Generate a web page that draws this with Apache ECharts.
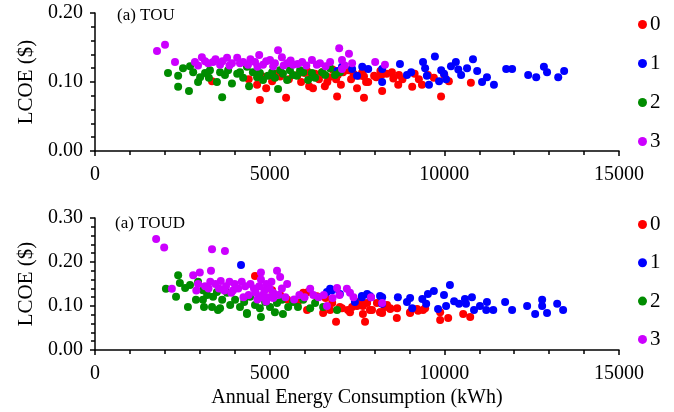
<!DOCTYPE html>
<html>
<head>
<meta charset="utf-8">
<script src="https://cdn.jsdelivr.net/npm/echarts@6/dist/echarts.min.js"></script>
<style>html,body{margin:0;padding:0;background:#fff;}#c{width:674px;height:412px;}</style>
</head>
<body>
<div id="c"></div>
<script>
const seriesNames = ['0', '1', '2', '3'];
const panelTitles = ['(a) TOU', '(a) TOUD'];
const xTicks = [0, 5000, 10000, 15000];
const yTicksTop = [0, 0.1, 0.2];
const yTicksBottom = [0, 0.1, 0.2, 0.3];
const xName = 'Annual Energy Consumption (kWh)';
const yName = 'LCOE ($)';

// ---- Panel 1: TOU ----
const touCluster0 = [[4720,0.074],[5470,0.077],[6930,0.079],[7700,0.077],[9906,0.079],[4640,0.096],[4900,0.091],[5070,0.101],[5550,0.104],[6130,0.094],[6240,0.091],[6580,0.094],[7040,0.096],[6070,0.116],[6410,0.104],[6700,0.107],[6900,0.104],[7330,0.104],[7560,0.109],[7760,0.100],[8050,0.107],[8200,0.110],[7500,0.091],[8220,0.087],[8680,0.096],[9080,0.093],[9360,0.096],[10130,0.101],[10760,0.099],[7650,0.114],[7820,0.100],[7990,0.109],[8170,0.116],[8500,0.114],[8540,0.105],[8700,0.110],[9270,0.104],[9530,0.110],[5800,0.110],[6000,0.113],[6300,0.112],[6500,0.114],[6800,0.118],[7100,0.114],[7250,0.117],[5300,0.108],[5150,0.112],[4800,0.108],[3350,0.101],[4400,0.104],[5900,0.100],[6650,0.100],[7400,0.112],[8350,0.112],[8800,0.104],[9150,0.112],[9700,0.106],[10000,0.110],[6200,0.108],[6950,0.110],[7700,0.108]];
const touCluster1 = [[8730,0.126],[9390,0.129],[9730,0.137],[10330,0.129],[10820,0.133],[11770,0.119],[11940,0.119],[12400,0.110],[12630,0.107],[12850,0.122],[12940,0.114],[13260,0.107],[13430,0.116],[11420,0.096],[11080,0.100],[11220,0.107],[10940,0.116],[10650,0.120],[10480,0.110],[9990,0.112],[9910,0.117],[10190,0.123],[9500,0.109],[9560,0.096],[9850,0.101],[9050,0.114],[8930,0.110],[8220,0.100],[8220,0.119],[7820,0.119],[7650,0.122],[7500,0.109],[7360,0.119],[7070,0.122],[6930,0.116],[9450,0.120],[10400,0.118],[10050,0.104]];
const touCluster2 = [[2090,0.113],[2380,0.093],[2690,0.087],[3640,0.078],[5240,0.090],[2380,0.109],[2520,0.120],[2720,0.123],[2950,0.100],[3150,0.113],[3260,0.106],[3490,0.100],[3720,0.110],[3920,0.098],[4070,0.112],[4240,0.106],[4410,0.094],[4640,0.107],[4810,0.103],[4950,0.109],[5150,0.106],[5380,0.112],[5500,0.103],[5670,0.110],[5870,0.117],[6100,0.103],[6300,0.106],[6500,0.114],[6730,0.120],[7010,0.114],[2810,0.114],[3010,0.107],[3290,0.117],[3580,0.114],[3810,0.117],[4150,0.114],[4350,0.122],[4520,0.114],[4720,0.113],[5070,0.114],[5300,0.117],[5580,0.117],[5780,0.109],[5960,0.114],[6210,0.113],[6590,0.110],[6870,0.110]];
const touCluster3 = [[1775,0.145],[2004,0.154],[2290,0.129],[2860,0.129],[3060,0.136],[3240,0.127],[3380,0.129],[3580,0.125],[3780,0.135],[3920,0.127],[4070,0.135],[4240,0.129],[4380,0.125],[4580,0.129],[4700,0.139],[4810,0.125],[5010,0.132],[5150,0.127],[5240,0.146],[5350,0.136],[5500,0.127],[5670,0.125],[5930,0.129],[6210,0.132],[6440,0.127],[6730,0.129],[6990,0.149],[7070,0.132],[7270,0.141],[7360,0.127],[7070,0.119],[8020,0.129],[8300,0.125],[2950,0.124],[3150,0.130],[3450,0.133],[3650,0.130],[3850,0.124],[4150,0.127],[4450,0.133],[4650,0.122],[4900,0.130],[5100,0.123],[5400,0.124],[5600,0.131],[5800,0.126],[6050,0.124],[6350,0.125],[6600,0.123],[7150,0.124]];

// ---- Panel 2: TOUD ----
const toudCluster0 = [[6900,0.064],[7730,0.064],[9880,0.068],[10110,0.073],[10540,0.082],[10740,0.075],[8640,0.073],[9020,0.086],[9250,0.089],[9390,0.091],[9880,0.086],[8170,0.086],[8450,0.093],[4580,0.168],[5070,0.136],[5960,0.130],[6070,0.091],[6530,0.084],[6790,0.107],[7070,0.095],[7300,0.086],[7500,0.109],[7670,0.100],[7870,0.091],[8160,0.086],[8360,0.102],[6730,0.091],[7240,0.091],[7500,0.100],[7670,0.082],[7790,0.107],[7930,0.091],[8220,0.084],[8450,0.095],[8650,0.095],[9020,0.084],[9220,0.093],[9450,0.095],[8070,0.107],[7640,0.109],[7360,0.098],[7010,0.098],[8300,0.098],[6100,0.132],[6350,0.122],[6600,0.118],[5300,0.125],[5500,0.115],[5800,0.108]];
const toudCluster1 = [[4180,0.193],[10160,0.148],[9700,0.134],[9530,0.127],[9990,0.125],[10790,0.120],[10590,0.116],[10280,0.111],[8670,0.120],[9020,0.118],[9370,0.116],[9080,0.095],[8930,0.109],[9480,0.105],[9820,0.093],[10050,0.100],[10420,0.105],[10620,0.105],[10850,0.091],[11020,0.100],[11220,0.109],[11200,0.091],[11400,0.091],[11740,0.109],[11940,0.091],[12370,0.100],[12600,0.082],[12800,0.114],[12800,0.100],[12940,0.084],[13230,0.105],[13400,0.091],[8160,0.123],[7870,0.123],[7640,0.123],[7790,0.127],[8220,0.105],[7440,0.109],[7010,0.127],[6730,0.139],[6640,0.132],[6790,0.136],[7640,0.120],[7900,0.120],[8220,0.120]];
const toudCluster2 = [[2380,0.170],[2030,0.139],[2320,0.121],[2660,0.098],[2430,0.152],[2890,0.114],[3120,0.098],[3520,0.091],[4350,0.082],[4750,0.075],[5150,0.086],[5380,0.082],[2580,0.141],[2720,0.148],[2950,0.155],[3090,0.136],[3210,0.125],[3380,0.121],[3490,0.132],[3640,0.114],[3780,0.130],[3870,0.102],[4010,0.114],[4150,0.098],[4270,0.109],[4440,0.121],[4580,0.102],[4720,0.095],[4870,0.109],[5010,0.098],[5210,0.107],[5350,0.114],[5530,0.098],[5670,0.109],[5810,0.098],[5960,0.114],[6160,0.095],[6300,0.107],[6530,0.098],[6930,0.091],[3580,0.095],[3350,0.098],[3090,0.114],[4350,0.084]];
const toudCluster3 = [[1750,0.252],[1980,0.233],[3350,0.229],[3720,0.225],[3320,0.180],[2200,0.139],[2810,0.170],[3000,0.176],[4750,0.176],[5210,0.180],[5300,0.166],[5500,0.150],[6160,0.139],[6930,0.141],[7210,0.139],[6640,0.100],[7900,0.120],[8220,0.107],[2950,0.150],[3150,0.145],[3300,0.155],[3450,0.150],[3600,0.157],[3750,0.145],[3850,0.155],[4000,0.150],[3550,0.140],[3700,0.135],[3900,0.130],[4100,0.140],[4200,0.155],[4300,0.145],[4450,0.150],[4550,0.140],[4600,0.130],[4700,0.145],[4750,0.160],[4800,0.125],[4850,0.135],[4900,0.150],[4950,0.120],[5000,0.140],[5050,0.155],[5100,0.130],[4650,0.115],[4750,0.120],[4900,0.110],[5100,0.118],[5250,0.125],[5350,0.140],[5450,0.120],[5700,0.115],[5850,0.125],[6000,0.120],[6250,0.125],[6400,0.120],[6550,0.125],[6800,0.118],[7000,0.125],[7300,0.130],[7400,0.120],[4400,0.125],[4250,0.120],[3950,0.135],[2900,0.135],[3250,0.140]];

const colors = ['#ff0000', '#0000ff', '#008c00', '#cc00ff'];
const FONT = '"Liberation Serif", "Times New Roman", serif';
const panels = [
  [touCluster0, touCluster1, touCluster2, touCluster3],
  [toudCluster0, toudCluster1, toudCluster2, toudCluster3]
];
const yTickSets = [yTicksTop, yTicksBottom];

const chart = echarts.init(document.getElementById('c'), null, {renderer: 'canvas'});

const grids = [
  {left: 95, width: 524, top: 13, height: 138},
  {left: 95, width: 524, top: 218, height: 132}
];

function xAxisFor(i) {
  return {
    type: 'value', gridIndex: i,
    min: xTicks[0], max: xTicks[xTicks.length - 1], interval: xTicks[1] - xTicks[0],
    name: i === 1 ? xName : '',
    nameLocation: 'middle', nameGap: 38,
    nameTextStyle: {fontFamily: FONT, fontSize: 20, color: '#000'},
    axisLine: {show: true, onZero: false, lineStyle: {color: '#000', width: 1.5}},
    axisTick: {show: true, inside: false, length: 5, lineStyle: {color: '#000', width: 1.5}},
    minorTick: {show: true, splitNumber: 5, length: 4, lineStyle: {color: '#000', width: 1.5}},
    axisLabel: {fontFamily: FONT, fontSize: 20, color: '#000', margin: 14,
      formatter: v => String(v)},
    splitLine: {show: false}
  };
}
function yAxisFor(i) {
  const t = yTickSets[i];
  return {
    type: 'value', gridIndex: i,
    min: t[0], max: t[t.length - 1], interval: t[1] - t[0],
    name: yName, nameLocation: 'middle', nameGap: 58,
    nameTextStyle: {fontFamily: FONT, fontSize: 21, color: '#000'},
    axisLine: {show: true, onZero: false, lineStyle: {color: '#000', width: 1.5}},
    axisTick: {show: true, inside: false, length: 5, lineStyle: {color: '#000', width: 1.5}},
    minorTick: {show: true, splitNumber: 5, length: 4, lineStyle: {color: '#000', width: 1.5}},
    axisLabel: {fontFamily: FONT, fontSize: 20, color: '#000', margin: 12,
      formatter: v => v.toFixed(2)},
    splitLine: {show: false}
  };
}

const series = [];
panels.forEach((clusters, p) => {
  clusters.forEach((data, k) => {
    series.push({
      type: 'scatter', name: seriesNames[k],
      xAxisIndex: p, yAxisIndex: p,
      data: data, symbol: 'circle', symbolSize: 8,
      itemStyle: {color: colors[k], opacity: 1},
      emphasis: {disabled: true}
    });
  });
});

function legendFor(top, gap) {
  return {
    orient: 'vertical', left: 633, top: top,
    icon: 'circle', itemWidth: 9, itemHeight: 9, itemGap: gap,
    data: seriesNames,
    textStyle: {fontFamily: FONT, fontSize: 21, color: '#000', padding: [0, 0, 0, -2]}
  };
}

chart.setOption({
  animation: false,
  backgroundColor: '#fff',
  color: colors,
  title: [
    {text: panelTitles[0], left: 117, top: 7, padding: 0,
      textStyle: {fontFamily: FONT, fontSize: 17, fontWeight: 'normal', color: '#000'}},
    {text: panelTitles[1], left: 115, top: 215, padding: 0,
      textStyle: {fontFamily: FONT, fontSize: 17, fontWeight: 'normal', color: '#000'}}
  ],
  legend: [legendFor(9, 18), legendFor(209, 17.3)],
  grid: grids,
  xAxis: [xAxisFor(0), xAxisFor(1)],
  yAxis: [yAxisFor(0), yAxisFor(1)],
  series: series
});
</script>
</body>
</html>
